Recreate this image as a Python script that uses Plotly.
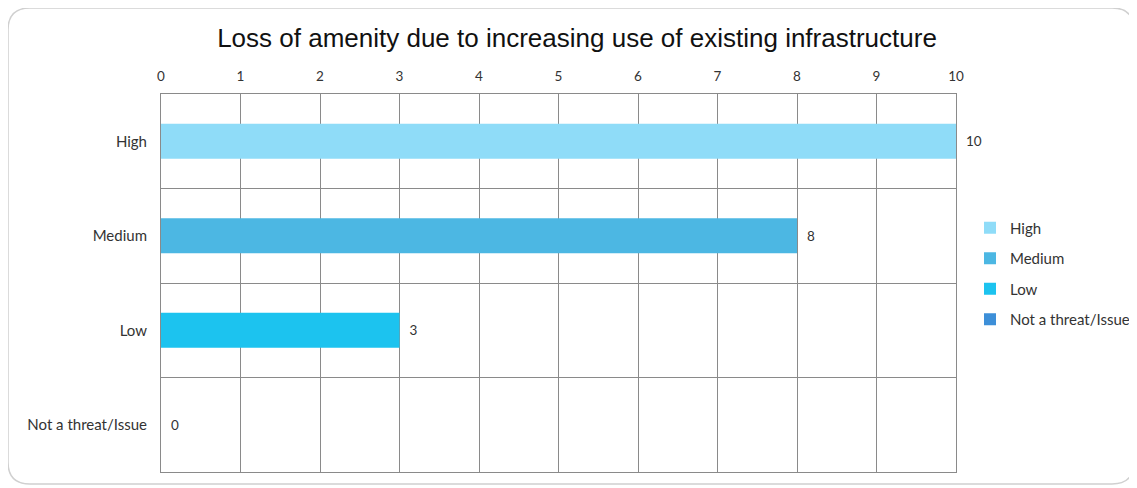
import plotly.graph_objects as go

categories = ["High", "Medium", "Low", "Not a threat/Issue"]
values = [10, 8, 3, 0]
colors = ["#8fdcf8", "#4cb7e3", "#1cc3ef", "#3d8fd8"]
x_ticks = list(range(0, 11))

n = len(categories)
ypos = [n - 1 - i for i in range(n)]

FONT = "Lato, Open Sans, sans-serif"
W, H = 1150, 488
fig = go.Figure()
for i, (cat, val, col) in enumerate(zip(categories, values, colors)):
    fig.add_trace(go.Bar(
        x=[val], y=[ypos[i]], orientation="h", name=cat,
        marker=dict(color=col, line=dict(width=0)),
        width=0.37, texttemplate="  %{x}", textposition="outside",
        textfont=dict(family=FONT, size=13.5, color="#333333"),
        cliponaxis=False, legendgroup=cat,
    ))

# page body has an 8px offset; margins compensate so plot area sits at
# screen x 161..956, y 94..472
fig.update_layout(
    width=W, height=H,
    barmode="overlay",
    paper_bgcolor="white", plot_bgcolor="white",
    margin=dict(l=153, r=W - 948, t=86, b=24, autoexpand=False),
    title=dict(text="Loss of amenity due to increasing use of existing infrastructure",
               x=569 / W, xanchor="center", y=0.9385, yanchor="middle",
               font=dict(family="Liberation Sans, Arial, sans-serif", size=26, color="#111111")),
    font=dict(family=FONT, size=13, color="#333333"),
    showlegend=True,
    legend=dict(xref="container", x=962 / W, y=0.525, xanchor="left", yanchor="middle",
                bgcolor="rgba(0,0,0,0)",
                font=dict(size=15, color="#333333"), tracegroupgap=8,
                itemwidth=30),
    xaxis=dict(side="top", range=[0, 10], tickvals=x_ticks, showgrid=True,
               gridcolor="#8a8a8a", gridwidth=1, zeroline=False,
               showline=True, linecolor="#8a8a8a", mirror=True, ticks="",
               ticklabelstandoff=7, automargin=False,
               tickfont=dict(size=13.5, color="#333333"), fixedrange=True),
    yaxis=dict(range=[-0.5, n - 0.5], tickvals=ypos, ticktext=categories,
               showgrid=False, zeroline=False, showline=True, linecolor="#8a8a8a",
               mirror=True, ticks="", ticklabelstandoff=10, automargin=False,
               tickfont=dict(size=15, color="#333333"),
               minor=dict(tickvals=[k - 0.5 for k in range(n + 1)], showgrid=True,
                          gridcolor="#8a8a8a", gridwidth=1, ticks="")),
)

# rounded light border around the chart (screen coordinates -> paper)
def px(xs):
    return (xs - 161) / 795
def py(ys):
    return (472 - ys) / 378
L, R, T, B, rad = 8, 1134, 8, 484, 22
path = (f"M {px(L + rad)},{py(T)} L {px(R - rad)},{py(T)} "
        f"Q {px(R)},{py(T)} {px(R)},{py(T + rad)} "
        f"L {px(R)},{py(B - rad)} Q {px(R)},{py(B)} {px(R - rad)},{py(B)} "
        f"L {px(L + rad)},{py(B)} Q {px(L)},{py(B)} {px(L)},{py(B - rad)} "
        f"L {px(L)},{py(T + rad)} Q {px(L)},{py(T)} {px(L + rad)},{py(T)} Z")
fig.add_shape(type="path", xref="paper", yref="paper", path=path,
              line=dict(color="#d0d0d0", width=1.5), layer="below")

fig.write_html("out.html")
